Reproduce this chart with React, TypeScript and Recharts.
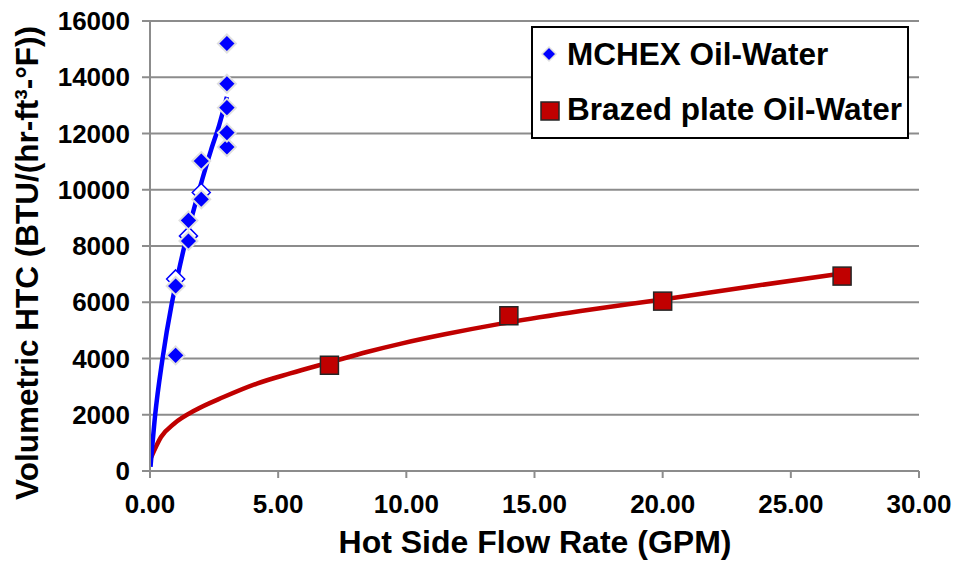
import React from 'react';
import { ComposedChart, XAxis, YAxis, CartesianGrid, Line, Scatter, Label } from 'recharts';

const xTicks = [0, 5, 10, 15, 20, 25, 30];
const yTicks = [0, 2000, 4000, 6000, 8000, 10000, 12000, 14000, 16000];

// MCHEX Oil-Water measured points
const mchexX = [1, 1, 1.5, 1.5, 2, 2, 3, 3, 3, 3, 3];
const mchexY = [4110, 6580, 8180, 8910, 9660, 11020, 11520, 12030, 12920, 13770, 15200];
// partly hidden MCHEX points (drawn behind)
const mchexHiddenX = [1, 1.5, 2];
const mchexHiddenY = [6830, 8360, 9900];

// Brazed plate Oil-Water measured points
const brazedX = [7, 14, 20, 27];
const brazedY = [3760, 5520, 6040, 6930];

// Trend line readings
const mchexTrendX = [0.02, 0.2, 0.48, 0.85, 1.1, 1.43, 1.92, 2.38, 2.7, 3.0];
const mchexTrendY = [150, 1980, 3940, 5955, 7025, 8330, 9990, 11410, 12300, 13300];
const brazedTrendX = [0.04, 0.43, 0.95, 1.76, 2.87, 4.17, 5.47, 7, 8.5, 9.8, 11.5, 13.7, 16.8, 20, 23.5, 27];
const brazedTrendY = [477, 1210, 1690, 2160, 2630, 3110, 3470, 3860, 4240, 4530, 4860, 5240, 5690, 6100, 6570, 7020];

const zip = (xs: number[], ys: number[]) => xs.map((x, i) => ({ x, y: ys[i] }));

const mchexData = zip(mchexX, mchexY);
const mchexHiddenData = zip(mchexHiddenX, mchexHiddenY);
const brazedData = zip(brazedX, brazedY);
const mchexTrend = zip(mchexTrendX, mchexTrendY);
const brazedTrend = zip(brazedTrendX, brazedTrendY);

const FONT = '"Liberation Sans", Arial, sans-serif';
const BLUE = '#0000FF';
const RED = '#C00000';
const GRID = '#8c8c8c';

const Diamond = (props: any) => {
  const { cx, cy } = props;
  const r = 9;
  return (
    <path
      d={`M${cx},${cy - r} L${cx + r},${cy} L${cx},${cy + r} L${cx - r},${cy} Z`}
      fill={BLUE}
      stroke="#e0e0e0"
      strokeWidth={2}
    />
  );
};

const HiddenDiamond = (props: any) => {
  const { cx, cy } = props;
  const r = 9;
  return (
    <path
      d={`M${cx},${cy - r} L${cx + r},${cy} L${cx},${cy + r} L${cx - r},${cy} Z`}
      fill="#ffffff"
      stroke={BLUE}
      strokeWidth={1.5}
    />
  );
};

const Square = (props: any) => {
  const { cx, cy } = props;
  const s = 18;
  return (
    <rect x={cx - s / 2} y={cy - s / 2} width={s} height={s} fill={RED} stroke="#262626" strokeWidth={1.5} />
  );
};

const YTitle = () => (
  <text
    x={38}
    y={263}
    transform="rotate(-90 38 263)"
    textAnchor="middle"
    fontFamily={FONT}
    fontWeight="bold"
    fontSize={31.5}
    fill="#000"
  >
    Volumetric HTC (BTU/(hr-ft³-°F))
  </text>
);

const XTitle = () => (
  <text x={535} y={553} textAnchor="middle" fontFamily={FONT} fontWeight="bold" fontSize={32} fill="#000">
    Hot Side Flow Rate (GPM)
  </text>
);

export default function App() {
  return (
    <div style={{ position: 'absolute', left: 0, top: 0, width: 955, height: 561, background: '#fff' }}>
      <ComposedChart width={955} height={561} margin={{ top: 21, right: 36, left: 0, bottom: 0 }}>
        <CartesianGrid vertical={false} stroke={GRID} strokeWidth={2} />
        <XAxis
          type="number"
          dataKey="x"
          domain={[0, 30]}
          ticks={xTicks}
          tickFormatter={(v: number) => v.toFixed(2)}
          height={90}
          tickSize={7}
          tickMargin={17}
          axisLine={{ stroke: GRID, strokeWidth: 2 }}
          tickLine={{ stroke: GRID, strokeWidth: 2 }}
          tick={{ fill: '#000', fontFamily: FONT, fontWeight: 'bold', fontSize: 26 }}
          allowDataOverflow
        >
          <Label content={<XTitle />} />
        </XAxis>
        <YAxis
          type="number"
          dataKey="y"
          domain={[0, 16000]}
          ticks={yTicks}
          width={150}
          tickSize={8}
          tickMargin={12}
          axisLine={{ stroke: GRID, strokeWidth: 2 }}
          tickLine={{ stroke: GRID, strokeWidth: 2 }}
          tick={{ fill: '#000', fontFamily: FONT, fontWeight: 'bold', fontSize: 26 }}
          allowDataOverflow
        >
          <Label content={<YTitle />} />
        </YAxis>
        <Line
          data={brazedTrend}
          dataKey="y"
          type="monotone"
          stroke={RED}
          strokeWidth={4.5}
          dot={false}
          activeDot={false}
          isAnimationActive={false}
        />
        <Line
          data={mchexTrend}
          dataKey="y"
          type="monotone"
          stroke={BLUE}
          strokeWidth={4.5}
          dot={false}
          activeDot={false}
          isAnimationActive={false}
        />
        <Scatter data={mchexHiddenData} dataKey="y" shape={<HiddenDiamond />} isAnimationActive={false} />
        <Scatter data={mchexData} dataKey="y" shape={<Diamond />} isAnimationActive={false} />
        <Scatter data={brazedData} dataKey="y" shape={<Square />} isAnimationActive={false} />
      </ComposedChart>
      <div
        style={{
          position: 'absolute',
          left: 531,
          top: 26,
          width: 378,
          height: 113,
          boxSizing: 'border-box',
          border: '2px solid #000',
          background: '#fff',
        }}
      >
        <svg width={374} height={109} style={{ position: 'absolute', left: 0, top: 0 }}>
          <path d="M16,19 L23,26 L16,33 L9,26 Z" fill={BLUE} stroke="#e0e0e0" strokeWidth={1.5} />
          <text x={34} y={37} fontFamily={FONT} fontWeight="bold" fontSize={31.5} fill="#000">
            MCHEX Oil-Water
          </text>
          <rect x={8} y={74} width={18} height={18} fill={RED} stroke="#262626" strokeWidth={1.5} />
          <text x={34} y={92} fontFamily={FONT} fontWeight="bold" fontSize={31.5} fill="#000">
            Brazed plate Oil-Water
          </text>
        </svg>
      </div>
    </div>
  );
}
